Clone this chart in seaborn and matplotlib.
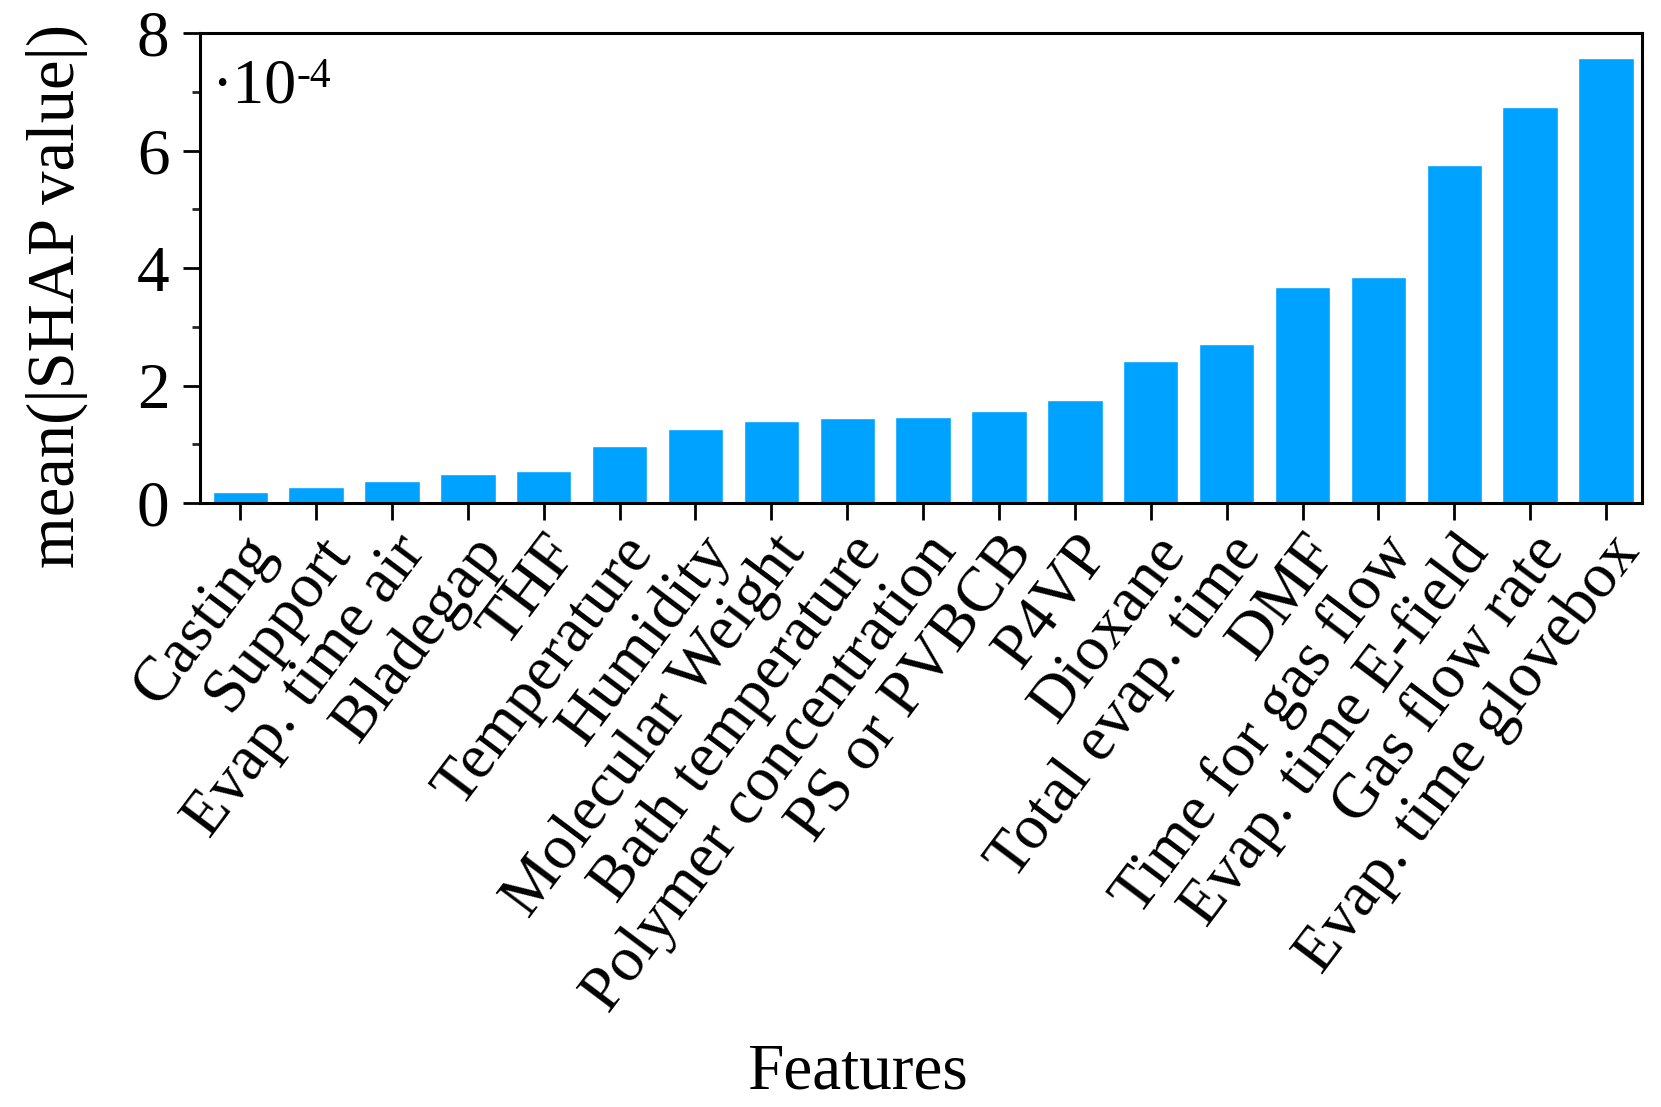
import matplotlib
matplotlib.use("Agg")
import matplotlib.pyplot as plt
import seaborn as sns
import pandas as pd
from matplotlib.ticker import MultipleLocator

# =====================================================
# DATA
# =====================================================

features = [
    "Casting", "Support", "Evap. time air", "Bladegap", "THF",
    "Temperature", "Humidity", "Molecular Weight", "Bath temperature",
    "Polymer concentration", "PS or PVBCB", "P4VP", "Dioxane",
    "Total evap. time", "DMF", "Time for gas flow", "Evap. time E-field",
    "Gas flow rate", "Evap. time glovebox",
]
shap_mean = [
    0.19, 0.28, 0.37, 0.49, 0.55,
    0.97, 1.26, 1.39, 1.44,
    1.46, 1.56, 1.75, 2.41,
    2.70, 3.68, 3.84, 5.76,
    6.75, 7.57,
]

df = pd.DataFrame({"feature": features, "value": shap_mean})

# =====================================================
# STYLE
# =====================================================

sns.set_style("ticks")
plt.rcParams["font.family"] = ["Liberation Serif", "DejaVu Serif"]
plt.rcParams["text.color"] = "black"
plt.rcParams["axes.labelcolor"] = "black"

# =====================================================
# PLOT
# =====================================================

fig = plt.figure(figsize=(16.61, 11.07), dpi=100)
ax = fig.add_axes([0.1204, 0.5456, 0.868, 0.4245])

sns.barplot(data=df, x="feature", y="value", color="#00A2FF",
            saturation=1, width=0.73, ax=ax)

ax.set_xlim(-0.53, len(features) - 0.53)
ax.set_ylim(0, 8)
ax.yaxis.set_major_locator(MultipleLocator(2))
ax.yaxis.set_minor_locator(MultipleLocator(1))

for side in ["left", "right", "top", "bottom"]:
    ax.spines[side].set_linewidth(2.2)
    ax.spines[side].set_color("black")

ax.tick_params(axis="both", which="major", length=12, width=2.0,
               direction="out", colors="black")
ax.tick_params(axis="y", which="minor", length=6, width=2.0, direction="out")
ax.tick_params(axis="y", labelsize=47, pad=10)
ax.tick_params(axis="x", labelsize=46, pad=4)

plt.setp(ax.get_xticklabels(), rotation=53, ha="right",
         rotation_mode="anchor")

ax.set_xlabel("Features", fontsize=47)
ax.set_ylabel("mean(|SHAP value|)", fontsize=48)
ax.xaxis.set_label_coords(0.456, -1.15)
ax.yaxis.set_label_coords(-0.078, 0.44)

# scale factor note in the upper left corner
t = ax.text(0.008, 0.945, "\u00b710", transform=ax.transAxes,
            fontsize=46, ha="left", va="top")
ax.annotate("-4", xy=(1.0, 1.03), xycoords=t, fontsize=30,
            ha="left", va="top")

fig.savefig("out.png", dpi=100)
